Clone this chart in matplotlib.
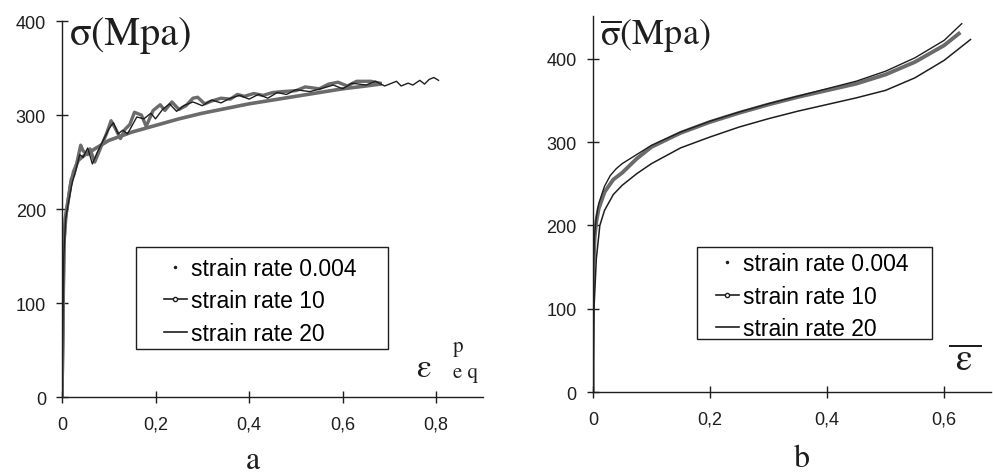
import matplotlib
matplotlib.use("Agg")
import matplotlib.pyplot as plt
from matplotlib.lines import Line2D
from matplotlib.patches import Rectangle

plt.rcParams['font.family'] = ['Liberation Sans', 'DejaVu Sans']
plt.rcParams['mathtext.fontset'] = 'stix'

# panel a : equivalent plastic strain vs stress
a_eps_0004 = [0, 0.001, 0.002, 0.003, 0.004, 0.007, 0.012, 0.018, 0.025, 0.035, 0.05, 0.07,
              0.1, 0.15, 0.2, 0.25, 0.3, 0.35, 0.4, 0.45, 0.5, 0.55, 0.6, 0.65, 0.68]
a_sig_0004 = [0, 40, 80, 120, 160, 190, 205, 225, 240, 252, 258, 264,
              273, 282, 289, 296, 302, 307, 312, 316, 320, 324, 328, 331, 333]

a_eps_10 = [0, 0.002, 0.003, 0.005, 0.01, 0.015, 0.02, 0.025, 0.03, 0.04, 0.045, 0.055, 0.06,
            0.07, 0.08, 0.095, 0.105, 0.115, 0.125, 0.135, 0.145, 0.155, 0.17, 0.18, 0.195,
            0.21, 0.22, 0.235, 0.25, 0.265, 0.28, 0.29, 0.305, 0.32, 0.34, 0.36, 0.375, 0.39,
            0.41, 0.43, 0.45, 0.47, 0.5, 0.52, 0.55, 0.57, 0.59, 0.61, 0.63, 0.66, 0.68]
a_sig_10 = [0, 60, 120, 170, 200, 215, 232, 236, 245, 268, 262, 258, 264,
            250, 262, 280, 294, 285, 275, 285, 290, 303, 300, 288, 305,
            311, 305, 314, 306, 310, 318, 319, 312, 315, 318, 317, 322, 320,
            323, 321, 324, 325, 326, 330, 328, 333, 335, 331, 336, 336, 334]

a_eps_20 = [0, 0.002, 0.004, 0.008, 0.015, 0.022, 0.03, 0.038, 0.045, 0.055, 0.065, 0.075,
            0.085, 0.1, 0.11, 0.12, 0.13, 0.14, 0.16, 0.175, 0.19, 0.2, 0.215, 0.23, 0.245,
            0.26, 0.28, 0.3, 0.32, 0.34, 0.36, 0.38, 0.4, 0.42, 0.44, 0.46, 0.48, 0.5, 0.53,
            0.56, 0.58, 0.6, 0.62, 0.65, 0.67, 0.69, 0.7, 0.715, 0.725, 0.74, 0.75, 0.765,
            0.775, 0.785, 0.795, 0.805]
a_sig_20 = [0, 80, 150, 190, 210, 228, 242, 258, 255, 265, 248, 260,
            270, 285, 292, 280, 284, 280, 298, 296, 302, 296, 306, 312, 304,
            310, 314, 310, 316, 313, 318, 321, 317, 322, 318, 324, 322, 327, 325,
            329, 332, 328, 334, 332, 336, 331, 333, 336, 331, 334, 332, 337,
            333, 338, 340, 337]

# panel b : equivalent strain vs equivalent stress
b_eps_0004 = [0, 0, 0.001, 0.003, 0.006, 0.01, 0.02, 0.035, 0.05, 0.075, 0.1, 0.15, 0.2,
              0.25, 0.3, 0.35, 0.4, 0.45, 0.5, 0.55, 0.6, 0.625]
b_sig_0004 = [0, 100, 150, 185, 205, 220, 240, 255, 263, 280, 294, 311, 324,
              335, 345, 354, 362, 370, 381, 396, 416, 430]

b_eps_10 = [0, 0, 0.001, 0.003, 0.006, 0.01, 0.02, 0.03, 0.04, 0.05, 0.075, 0.1, 0.15, 0.2,
            0.25, 0.3, 0.35, 0.4, 0.45, 0.5, 0.55, 0.6, 0.63]
b_sig_10 = [0, 100, 150, 188, 210, 226, 247, 260, 268, 274, 285, 296, 312, 325,
            336, 346, 355, 364, 373, 385, 401, 422, 442]

b_eps_20 = [0, 0.002, 0.006, 0.012, 0.02, 0.035, 0.05, 0.075, 0.1, 0.15, 0.2, 0.25, 0.3,
            0.35, 0.4, 0.45, 0.5, 0.55, 0.6, 0.645]
b_sig_20 = [0, 100, 160, 200, 218, 237, 248, 262, 274, 293, 306, 318, 328,
            337, 345, 353, 362, 377, 398, 423]

labels = ['strain rate 0.004', 'strain rate 10', 'strain rate 20']
grey = '#6b6b6b'
dark = '#1e1e1e'


def style_axes(ax, xticks, xlabels, yticks):
    for s in ['top', 'right']:
        ax.spines[s].set_visible(False)
    for s in ['left', 'bottom']:
        ax.spines[s].set_linewidth(1.0)
        ax.spines[s].set_color(dark)
    ax.set_xticks(xticks)
    ax.set_xticklabels(xlabels)
    ax.set_yticks(yticks)
    ax.tick_params(axis='both', direction='inout', length=9, width=1.0,
                   color=dark, labelsize=13, labelcolor=dark)
    ax.tick_params(axis='x', pad=9)
    ax.tick_params(axis='y', pad=7)
    ax.patch.set_alpha(0)


def add_legend(ax, x, y, box):
    handles = [
        Line2D([], [], ls='none', marker='.', ms=3, color=dark),
        Line2D([], [], ls='-', lw=1.2, marker='o', ms=3, mfc='white', color=dark),
        Line2D([], [], ls='-', lw=1.2, color=dark),
    ]
    ax.legend(handles, labels, loc='center left', bbox_to_anchor=(x, y),
              bbox_transform=fig.transFigure, fontsize=16.5, frameon=False,
              handlelength=1.0, handletextpad=0.2, labelspacing=0.42,
              borderpad=0, borderaxespad=0)
    fig.patches.append(Rectangle(box[:2], box[2], box[3], transform=fig.transFigure,
                                 fill=False, edgecolor=dark, lw=1.0))


fig = plt.figure(figsize=(9.93, 4.77), dpi=100)

# ---- panel a
ax1 = fig.add_axes([0.0624, 0.1656, 0.424, 0.788])
ax1.plot(a_eps_0004, a_sig_0004, color=grey, lw=2.6, solid_joinstyle='round')
ax1.plot(a_eps_10, a_sig_10, color=grey, lw=2.4, solid_joinstyle='round')
ax1.plot(a_eps_20, a_sig_20, color=dark, lw=1.0)
ax1.set_xlim(0, 0.9)
ax1.set_ylim(0, 400)
style_axes(ax1, [0, 0.2, 0.4, 0.6, 0.8], ['0', '0,2', '0,4', '0,6', '0,8'],
           [0, 100, 200, 300, 400])
add_legend(ax1, 0.165, 0.367, (0.137, 0.266, 0.254, 0.214))

fig.text(0.070, 0.905, 'σ(Mpa)', family='STIXGeneral', fontsize=29, color=dark,
         va='baseline')
fig.text(0.419, 0.210, 'ε', family='STIXGeneral', fontsize=24, color=dark, va='baseline')
fig.text(0.456, 0.262, 'p', family='STIXGeneral', fontsize=15, color=dark, va='baseline')
fig.text(0.456, 0.208, 'e q', family='STIXGeneral', fontsize=15, color=dark, va='baseline')
fig.text(0.255, 0.017, 'a', family='STIXGeneral', fontsize=23, color=dark,
         ha='center', va='baseline')

# ---- panel b
ax2 = fig.add_axes([0.597, 0.176, 0.401, 0.788])
ax2.plot(b_eps_0004, b_sig_0004, color=grey, lw=2.8, solid_joinstyle='round')
ax2.plot(b_eps_10, b_sig_10, color=dark, lw=1.0)
ax2.plot(b_eps_20, b_sig_20, color=dark, lw=1.1)
ax2.set_xlim(0, 0.68)
ax2.set_ylim(0, 451)
style_axes(ax2, [0, 0.2, 0.4, 0.6], ['0', '0,2', '0,4', '0,6'],
           [0, 100, 200, 300, 400])
add_legend(ax2, 0.721, 0.377, (0.702, 0.287, 0.237, 0.193))

fig.text(0.604, 0.905, r'$\overline{\mathrm{\sigma}}\mathrm{(Mpa)}$', fontsize=26,
         color=dark, va='baseline')
fig.text(0.955, 0.222, r'$\overline{\mathrm{\;\varepsilon\;}}$', fontsize=27,
         color=dark, va='baseline')
fig.text(0.808, 0.022, 'b', family='STIXGeneral', fontsize=23, color=dark,
         ha='center', va='baseline')

fig.savefig('out.png', dpi=100, facecolor='white')
